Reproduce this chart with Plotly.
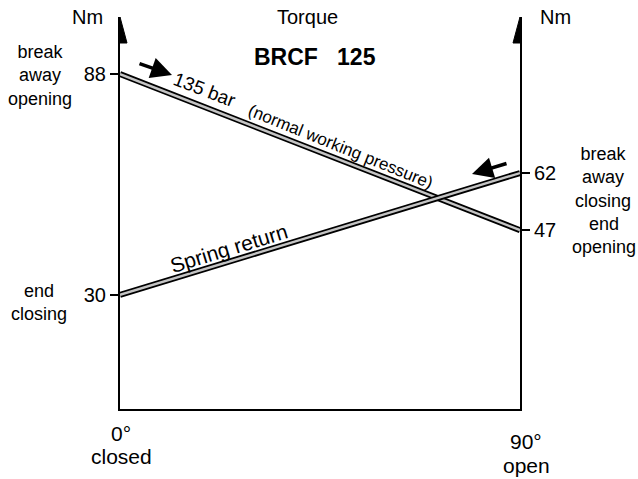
import plotly.graph_objects as go

# ---- data ----
angle_deg = [0, 90]
torque_135bar = [88, 47]      # 135 bar (normal working pressure)
torque_spring = [30, 62]      # spring return
left_ticks = [30, 88]
right_ticks = [47, 62]

W, H = 638, 479
L, R, T, B = 120, 118, 17, 70
YMAX = 103
FONT = "Arial, Liberation Sans, Helvetica, sans-serif"

PX0, PX1, PY0, PY1 = L, W - R, T, H - B
pw = PX1 - PX0
ph = PY1 - PY0

def xp(px):
    return (px - PX0) / pw

def yp(py):
    return (PY1 - py) / ph

fig = go.Figure()

for ys in (torque_135bar, torque_spring):
    fig.add_trace(go.Scatter(x=angle_deg, y=ys, mode="lines",
                             line=dict(color="black", width=6), hoverinfo="skip",
                             showlegend=False))
    fig.add_trace(go.Scatter(x=angle_deg, y=ys, mode="lines",
                             line=dict(color="#c4c4c4", width=2.4), hoverinfo="skip",
                             showlegend=False))

# axis arrowheads
hw = 7 / pw * 90
base = (PY1 - (PY0 + 26)) / ph * YMAX
for xa in (0, 90):
    fig.add_shape(type="path",
                  path=f"M {xa-hw} {base} L {xa} {YMAX} L {xa+hw} {base} Z",
                  xref="x", yref="y", fillcolor="black", line=dict(color="black", width=1))

ann = []
def text(px, py, s, size=16, bold=False, angle=0):
    if bold:
        s = f"<b>{s}</b>"
    ann.append(dict(x=xp(px), y=yp(py), xref="paper", yref="paper", text=s, showarrow=False,
                    font=dict(family=FONT, size=size, color="black"),
                    textangle=angle, xanchor="center", yanchor="middle"))

text(87, 17, "Nm", 20)
text(555, 17, "Nm", 20)
text(307, 17, "Torque", 20)
text(315, 57, "BRCF\u00a0\u00a0\u00a0125", 23, bold=True)
text(40, 75, "break<br>away<br>opening", 18)
text(39, 302, "end<br>closing", 18)
text(603, 177, "break<br>away<br>closing", 18)
text(604, 235, "end<br>opening", 18)
text(121, 433, "0°", 21)
text(121, 457, "closed", 21)
text(526, 441, "90°", 21)
text(526, 465, "open", 21)
text(204, 90, "135 bar", 19, angle=21)
text(340, 146, "(normal working pressure)", 17, angle=22)
text(228, 248, "Spring return", 21, angle=-17)

# pointer arrows
ann.append(dict(x=xp(172), y=yp(75), xref="paper", yref="paper", text="", showarrow=True,
                ax=-34, ay=-12, arrowhead=2, arrowsize=1.2, arrowwidth=3.5, arrowcolor="black"))
ann.append(dict(x=xp(472), y=yp(174), xref="paper", yref="paper", text="", showarrow=True,
                ax=36, ay=-11, arrowhead=2, arrowsize=1.2, arrowwidth=3.5, arrowcolor="black"))

fig.update_layout(
    width=W, height=H,
    margin=dict(l=L, r=R, t=T, b=B),
    paper_bgcolor="white", plot_bgcolor="white",
    annotations=ann,
    xaxis=dict(range=[0, 90], showline=True, linecolor="black", linewidth=2,
               showgrid=False, zeroline=False, showticklabels=False, ticks=""),
    yaxis=dict(range=[0, YMAX], showline=True, linecolor="black", linewidth=2,
               showgrid=False, zeroline=False, tickvals=left_ticks, ticks="outside",
               ticklen=8, tickwidth=1.5, tickcolor="black",
               tickfont=dict(family=FONT, size=20, color="black")),
    yaxis2=dict(range=[0, YMAX], overlaying="y", side="right", anchor="x",
                showline=True, linecolor="black", linewidth=2,
                showgrid=False, zeroline=False, tickvals=right_ticks, ticks="outside",
                ticklen=8, tickwidth=1.5, tickcolor="black",
                tickfont=dict(family=FONT, size=20, color="black")),
    showlegend=False,
)
fig.add_trace(go.Scatter(x=[None], y=[None], yaxis="y2", showlegend=False, hoverinfo="skip"))

fig.write_html("out.html", config={"displayModeBar": False},
               post_script="document.body.style.margin='0';document.body.style.overflow='hidden';")
